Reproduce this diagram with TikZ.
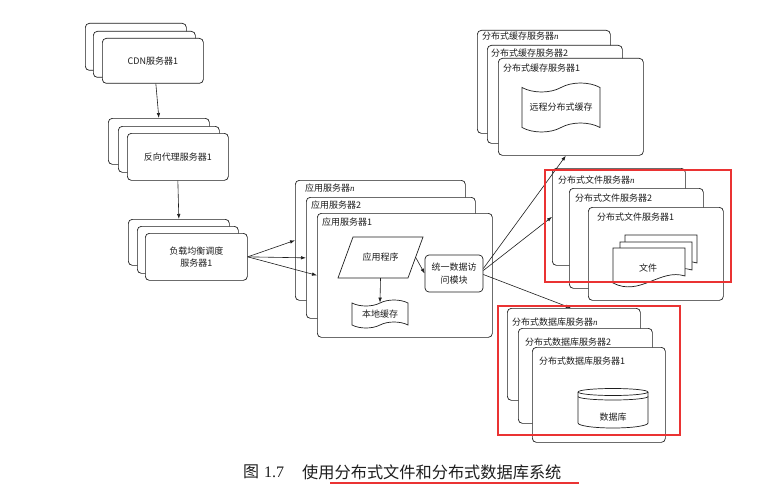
\documentclass[tikz,border=0pt]{standalone}
\usepackage{fontspec}
\setmainfont{Noto Sans CJK SC}
\newfontfamily\serifrm{Liberation Serif}
\usetikzlibrary{arrows.meta,shapes.geometric,shapes.symbols}
\definecolor{rd}{RGB}{234,51,51}
\definecolor{ink}{RGB}{30,30,30}
\newcommand\mkbox[6]{\node[box,minimum width={(#4)-(#2)},minimum height={(#5)-(#3)},anchor=north west] (#1) at (#2,#3) {#6};}
\newcommand\nn{{\serifrm\itshape n}}
\begin{document}
\begin{tikzpicture}[x=1pt,y=-1pt,
  box/.style={draw=ink,line width=0.7pt,fill=white,rounded corners=4pt,inner sep=0pt,
    font=\fontsize{9}{12.5}\selectfont,align=center,text=ink},
  ttl/.style={anchor=west,inner sep=0pt,font=\fontsize{9}{11}\selectfont,text=ink},
  arr/.style={-{Latex[length=5pt,width=3.5pt]},line width=0.6pt,draw=ink},
  redbox/.style={draw=rd,line width=2pt},
  outline/.style={draw=ink,line width=0.7pt,fill=white},
  shp/.style={draw=ink,line width=0.7pt,fill=white,inner sep=0pt,
    font=\fontsize{9}{12.5}\selectfont,align=center,text=ink},
  lbl/.style={inner sep=0pt,font=\fontsize{9}{11}\selectfont,text=ink}]
\fill[white] (0,0) rectangle (774,495);
\useasboundingbox (0,0) rectangle (774,495);

% CDN stack
\mkbox{cdn3}{85}{23}{186}{70}{}
\mkbox{cdn2}{93}{31}{195}{77}{}
\mkbox{cdn1}{102}{38}{203}{83}{CDN服务器1}
% reverse proxy stack
\mkbox{rp3}{108}{118}{209}{164}{}
\mkbox{rp2}{118}{126}{219}{172}{}
\mkbox{rp1}{127}{133}{228}{180}{反向代理服务器1}
% load balancer stack
\mkbox{lb3}{128}{219}{229}{265}{}
\mkbox{lb2}{137}{226}{238}{273}{}
\mkbox{lb1}{145}{233}{247}{280}{负载均衡调度\\服务器1}

% application servers
\mkbox{appn}{295}{180}{465}{300}{}
\node[ttl] (tappn) at (305,188) {应用服务器\nn};
\mkbox{app2}{306}{197}{475}{318}{}
\node[ttl] (tapp2) at (311,205) {应用服务器2};
\mkbox{app1}{317}{213}{492}{337}{}
\node[ttl] (tapp1) at (322,222) {应用服务器1};
\draw[outline] (338,278) -- (408,278) -- (423,237) -- (353,237) -- cycle;
\node[lbl,minimum width=85pt,minimum height=41pt] (prog) at (380.5,257.5) {应用程序};
\node[box,minimum width=58pt,minimum height=37pt] (module) at (454,273.5) {统一数据访\\问模块};
\node[shp,tape,minimum width=56pt,minimum height=28pt,tape bend height=6pt] (lcache) at (380,314) {本地缓存};

% cache servers
\mkbox{cachen}{477}{30}{610}{133}{}
\node[ttl] (tcachen) at (482,36) {分布式缓存服务器\nn};
\mkbox{cache2}{487}{45}{622}{143}{}
\node[ttl] (tcache2) at (491,53) {分布式缓存服务器2};
\mkbox{cache1}{498}{58}{643}{155}{}
\node[ttl] (tcache1) at (503,68) {分布式缓存服务器1};
\node[shp,tape,minimum width=78pt,minimum height=49pt,tape bend height=9pt] (rcache) at (561,107.5) {远程分布式缓存};

% file servers
\mkbox{filen}{552}{168}{685}{265}{}
\node[ttl] (tfilen) at (558,180) {分布式文件服务器\nn};
\mkbox{file2}{569}{188}{703}{288}{}
\node[ttl] (tfile2) at (575,198) {分布式文件服务器2};
\mkbox{file1}{588}{207}{723}{300}{}
\node[ttl] (tfile1) at (597,217) {分布式文件服务器1};
\foreach \dx/\dy in {12/-13,7/-6,0/0}{
  \draw[outline]
    (613+\dx,283+\dy) -- (613+\dx,248+\dy) -- (685+\dx,248+\dy) -- (685+\dx,276+\dy)
    .. controls (660+\dx,268+\dy) and (640+\dx,297+\dy) .. cycle;
}
\node[lbl] (files) at (648,268) {文件};

% database servers
\mkbox{dbn}{507}{308}{640}{400}{}
\node[ttl] (tdbn) at (512,322) {分布式数据库服务器\nn};
\mkbox{db2}{518}{328}{652}{423}{}
\node[ttl] (tdb2) at (525,342) {分布式数据库服务器2};
\mkbox{db1}{532}{347}{665}{442}{}
\node[ttl] (tdb1) at (539,361) {分布式数据库服务器1};
\draw[outline]
  (578,392) -- (578,423) arc[start angle=180,end angle=360,x radius=35pt,y radius=5pt]
  -- (648,392) arc[start angle=0,end angle=180,x radius=35pt,y radius=3.5pt] -- cycle;
\draw[draw=ink,line width=0.7pt] (578,392) arc[start angle=180,end angle=360,x radius=35pt,y radius=3.5pt];
\draw[draw=ink,line width=0.7pt] (578,396.5) arc[start angle=180,end angle=360,x radius=35pt,y radius=3.5pt];
\node[lbl] (db) at (613,417) {数据库};

% connectors
\draw[arr] ([xshift=3pt]cdn1.south) -- (rp3.north);
\draw[arr] (rp1.south) -- (lb3.north);
\draw[arr] (lb1.east) -- (appn.west);
\draw[arr] (lb1.east) -- (app2.west);
\draw[arr] (lb1.east) -- (app1.west);
\draw[arr] ([xshift=-7.5pt]prog.east) -- (module.west);
\draw[arr] (prog.south) -- (lcache.north);
\draw[arr] ([yshift=5pt]module.east) -- ([xshift=-5pt]cache1.south);
\draw[arr] ([yshift=3pt]module.east) -- (filen.west);
\draw[arr] ([yshift=-1pt]module.east) -- ([xshift=-3pt]dbn.north);

% red highlight boxes
\draw[redbox] (545,170) rectangle (731,282);
\draw[redbox] (498,306) rectangle (680,435);

% caption
\node[anchor=west,inner sep=0pt,font=\fontsize{16}{18}\selectfont,text=ink] (figno) at (243,472) {图\hspace{5pt}{\serifrm 1.7}};
\node[anchor=west,inner sep=0pt,font=\fontsize{16.2}{18}\selectfont,text=ink] (figtitle) at (302,472) {使用分布式文件和分布式数据库系统};
\coordinate (ul1) at (330,483);
\coordinate (ul2) at (579,483);
\draw[draw=rd,line width=2.2pt] (ul1) -- (ul2);
\end{tikzpicture}
\end{document}
